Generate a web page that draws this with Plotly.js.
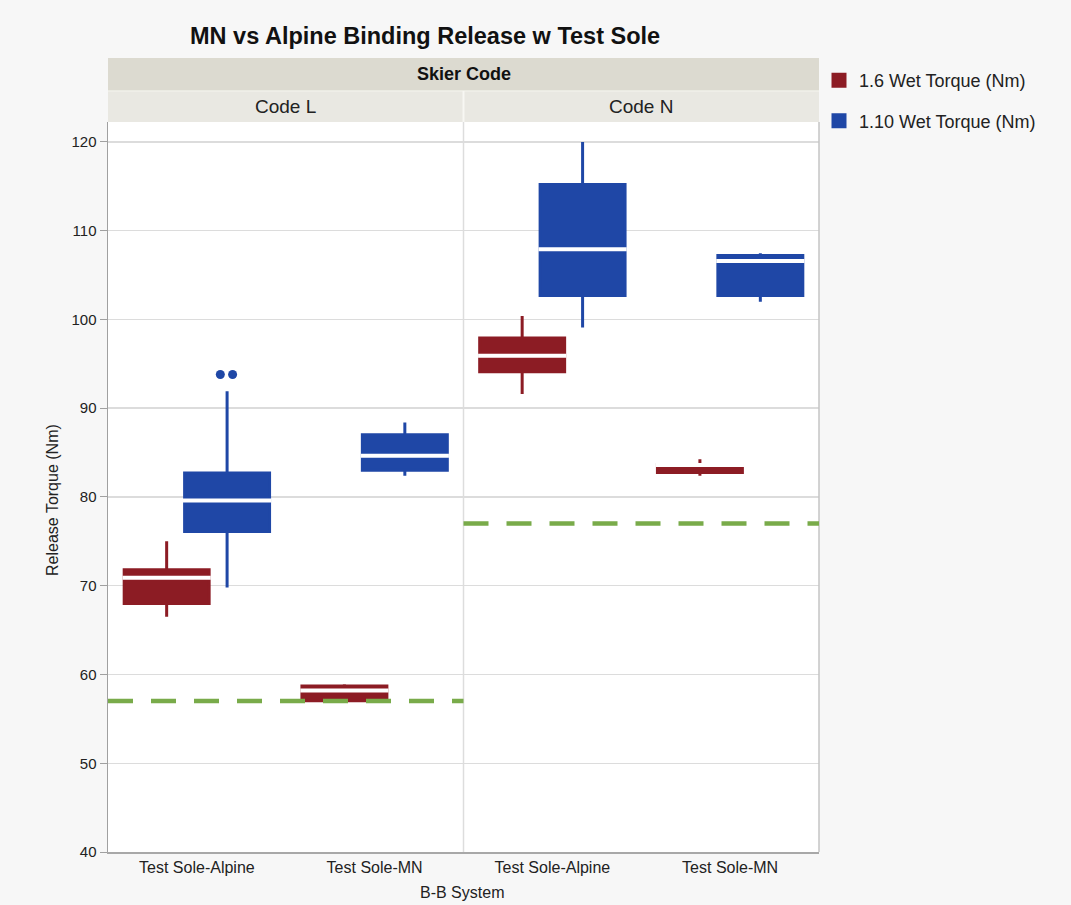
<!DOCTYPE html>
<html>
<head>
<meta charset="utf-8">
<script src="https://cdn.plot.ly/plotly-3.0.1.min.js"></script>
<style>
  html, body { margin: 0; padding: 0; background: #f7f7f7; }
  #chart { width: 1071px; height: 905px; }
</style>
</head>
<body>
<div id="chart"></div>
<script>
// B-B systems on the x axis, one panel per skier code
const categories = ['Test Sole-Alpine', 'Test Sole-MN'];
const skierCodes = ['Code L', 'Code N'];
const seriesNames = ['1.6 Wet Torque (Nm)', '1.10 Wet Torque (Nm)'];

// Box statistics, indexed [skier code][B-B system]
const t16Lower  = [[66.5, 56.8], [91.6, 82.4]];
const t16Q1     = [[68.0, 57.05], [94.1, 82.75]];
const t16Median = [[70.9, 58.2], [95.9, 83.6]];
const t16Q3     = [[71.8, 58.7], [97.9, 83.65]];
const t16Upper  = [[75.0, 58.9], [100.4, 84.25]];

const t110Lower  = [[69.8, 82.4], [99.1, 102.0]];
const t110Q1     = [[76.1, 83.0], [102.7, 102.7]];
const t110Median = [[79.6, 84.65], [107.9, 106.6]];
const t110Q3     = [[82.7, 87.0], [115.2, 107.2]];
const t110Upper  = [[91.9, 88.4], [120.0, 107.45]];
const t110Outliers = [[[93.8, 93.8], []], [[], []]];

// Minimum release torque per skier code
const minTorque = [57, 77];

const RED = '#8c1c24';
const BLUE = '#1f47a6';
const GREEN = '#79ab4a';

const BOX_WIDTH = 0.478;
const MEDIAN_WIDTH = 0.496;   // reaches across the box outline as well
const SHIFT = 0.17;

// panel axes carry the category labels; each series sits on its own
// hidden category axis overlaying the panel, shifted sideways
const panelAxes = ['x', 'x2'];
const seriesAxes = [['x3', 'x5'], ['x4', 'x6']];

const stats = [
  [t16Lower, t16Q1, t16Median, t16Q3, t16Upper],
  [t110Lower, t110Q1, t110Median, t110Q3, t110Upper]
];
const outliers = [null, t110Outliers];
const colors = [RED, BLUE];

const traces = [];
// empty traces so the labelled panel axes are created
panelAxes.forEach(ax => {
  traces.push({ type: 'scatter', mode: 'none', x: [], y: [], xaxis: ax, yaxis: 'y',
    showlegend: false, hoverinfo: 'skip' });
});
for (let s = 0; s < 2; s++) {
  for (let c = 0; c < 2; c++) {
    const [lo, q1, med, q3, hi] = stats[s].map(a => a[c]);
    const box = {
      type: 'box',
      name: seriesNames[s],
      legendgroup: 'g' + s,
      showlegend: c === 0,
      xaxis: seriesAxes[s][c],
      yaxis: 'y',
      x: categories,
      q1: q1, median: med, q3: q3,
      lowerfence: lo, upperfence: hi,
      width: BOX_WIDTH,
      whiskerwidth: 0,
      fillcolor: colors[s],
      line: { color: colors[s], width: 3 },
      marker: { color: colors[s], size: 9 },
      boxpoints: false,
      hoverinfo: 'skip'
    };
    const pts = outliers[s] && outliers[s][c];
    if (pts && pts.some(p => p.length)) {
      box.y = pts;
      box.boxpoints = 'outliers';
      box.jitter = 0.25;
      box.pointpos = 0;
    }
    traces.push(box);
    // white median bar across the filled box
    traces.push({
      type: 'box',
      name: seriesNames[s],
      legendgroup: 'g' + s,
      showlegend: false,
      xaxis: seriesAxes[s][c],
      yaxis: 'y',
      x: categories,
      q1: med, median: med, q3: med,
      lowerfence: med, upperfence: med,
      width: MEDIAN_WIDTH,
      whiskerwidth: 0,
      fillcolor: '#ffffff',
      line: { color: '#ffffff', width: 4 },
      boxpoints: false,
      hoverinfo: 'skip'
    });
  }
}

const font = 'Liberation Sans, Arial, sans-serif';

function panelAxis(domain) {
  return {
    domain: domain,
    anchor: 'y',
    type: 'category',
    categoryorder: 'array',
    categoryarray: categories,
    range: [-0.5, 1.5],
    showgrid: false,
    zeroline: false,
    ticks: '',
    showline: true,
    linecolor: '#a8a8a8',
    linewidth: 1.5,
    tickfont: { family: font, size: 16, color: '#222' },
    fixedrange: true
  };
}
function seriesAxis(over, shift) {
  return {
    overlaying: over,
    anchor: 'y',
    type: 'category',
    categoryorder: 'array',
    categoryarray: categories,
    range: [-0.5 + shift, 1.5 + shift],
    visible: false,
    fixedrange: true
  };
}

const bandTop = 1.0877, bandMid = 1.0425;

const shapes = [
  { type: 'rect', xref: 'paper', yref: 'paper', x0: 0, x1: 1, y0: bandMid, y1: bandTop,
    fillcolor: '#dcdad0', line: { width: 0 } },
  { type: 'rect', xref: 'x domain', yref: 'paper', x0: 0, x1: 1, y0: 1, y1: bandMid,
    fillcolor: '#e9e8e2', line: { width: 0 } },
  { type: 'rect', xref: 'x2 domain', yref: 'paper', x0: 0, x1: 1, y0: 1, y1: bandMid,
    fillcolor: '#e9e8e2', line: { width: 0 } },
  { type: 'line', xref: 'paper', yref: 'paper', x0: 0, x1: 1, y0: bandMid, y1: bandMid,
    line: { color: '#f1f0ea', width: 1.5 } },
  { type: 'line', xref: 'x domain', yref: 'paper', x0: 1, x1: 1, y0: 1, y1: bandMid,
    line: { color: '#f7f7f3', width: 2 } },
  { type: 'line', xref: 'x domain', yref: 'paper', x0: 1, x1: 1, y0: 0, y1: 1,
    line: { color: '#dddddd', width: 1.5 }, layer: 'below' },
  { type: 'line', xref: 'x2 domain', yref: 'paper', x0: 1, x1: 1, y0: 0, y1: 1,
    line: { color: '#c4c4c4', width: 1.5 } }
];
minTorque.forEach((v, c) => {
  shapes.push({
    type: 'line', xref: panelAxes[c] + ' domain', yref: 'y',
    x0: 0, x1: 1, y0: v, y1: v,
    line: { color: GREEN, width: 4.5, dash: '25px,18px' }
  });
});

const annotations = [
  { text: '<b>Skier Code</b>', xref: 'paper', yref: 'paper', x: 0.5, y: (bandMid + bandTop) / 2,
    showarrow: false, yanchor: 'middle', font: { family: font, size: 18, color: '#111' } },
  { text: 'B-B System', xref: 'paper', yref: 'paper', x: 0.498, y: -0.056,
    showarrow: false, yanchor: 'middle', font: { family: font, size: 16, color: '#222' } },
  { text: 'Release Torque (Nm)', xref: 'paper', yref: 'paper', x: -0.079, y: 0.482,
    textangle: -90, showarrow: false, xanchor: 'center', yanchor: 'middle',
    font: { family: font, size: 16, color: '#222' } }
];
skierCodes.forEach((code, c) => {
  annotations.push({
    text: code, xref: panelAxes[c] + ' domain', yref: 'paper', x: 0.5, y: (1 + bandMid) / 2,
    showarrow: false, yanchor: 'middle', font: { family: font, size: 19, color: '#222' }
  });
});

const layout = {
  width: 1071,
  height: 905,
  paper_bgcolor: '#f7f7f7',
  plot_bgcolor: '#ffffff',
  margin: { l: 108, r: 252, t: 122, b: 53, pad: 0 },
  boxmode: 'overlay',
  title: {
    text: '<b>MN vs Alpine Binding Release w Test Sole</b>',
    xref: 'paper', x: 0.446, xanchor: 'center',
    yref: 'container', y: 0.961, yanchor: 'middle',
    font: { family: font, size: 23.5, color: '#111' }
  },
  xaxis: panelAxis([0, 0.5]),
  xaxis2: panelAxis([0.5, 1]),
  xaxis3: seriesAxis('x', SHIFT),
  xaxis4: seriesAxis('x', -SHIFT),
  xaxis5: seriesAxis('x2', SHIFT),
  xaxis6: seriesAxis('x2', -SHIFT),
  yaxis: {
    domain: [0, 1],
    anchor: 'x',
    range: [40, 122.25],
    tick0: 40,
    dtick: 10,
    showgrid: true,
    gridcolor: '#dcdcdc',
    gridwidth: 1.5,
    zeroline: false,
    showline: true,
    linecolor: '#a0a0a0',
    linewidth: 1.5,
    ticks: 'outside',
    ticklen: 7,
    tickcolor: '#a0a0a0',
    tickfont: { family: font, size: 15, color: '#222' },
    fixedrange: true
  },
  legend: {
    x: 1.0, xanchor: 'left',
    y: 1.082, yanchor: 'top',
    bgcolor: 'rgba(0,0,0,0)',
    traceorder: 'grouped',
    tracegroupgap: 14,
    font: { family: font, size: 18, color: '#222' }
  },
  shapes: shapes,
  annotations: annotations,
  showlegend: true
};

Plotly.newPlot('chart', traces, layout, { displayModeBar: false, staticPlot: true })
  .catch(err => console.error(err));
</script>
</body>
</html>
